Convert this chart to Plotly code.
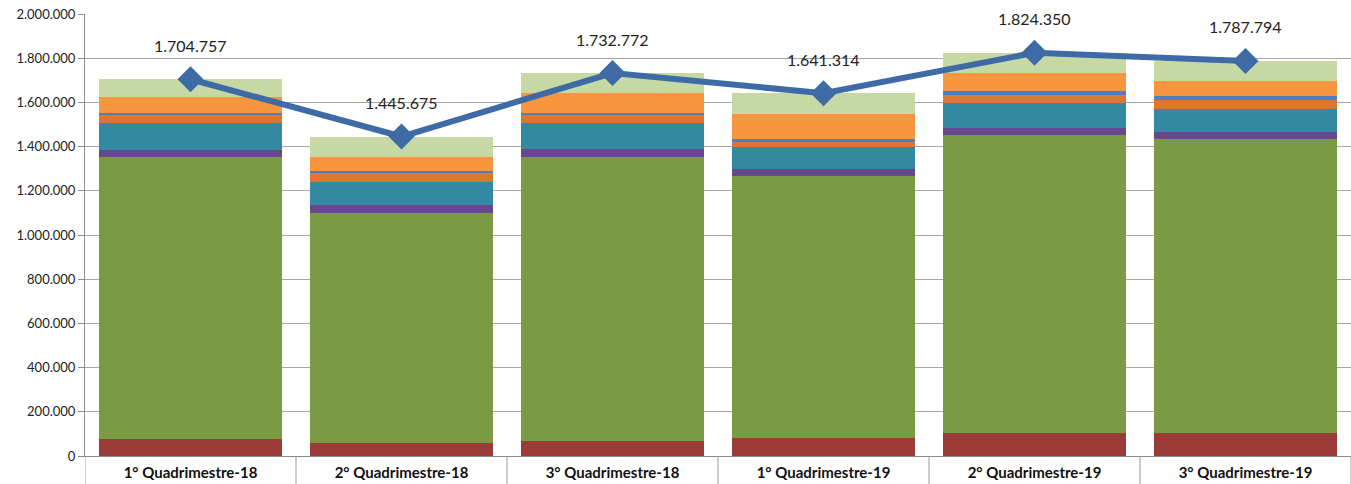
import plotly.graph_objects as go

# ── data ────────────────────────────────────────────────────────────
categories = ["1° Quadrimestre-18", "2° Quadrimestre-18", "3° Quadrimestre-18",
              "1° Quadrimestre-19", "2° Quadrimestre-19", "3° Quadrimestre-19"]

totals = [1704757, 1445675, 1732772, 1641314, 1824350, 1787794]

# stacked components, bottom to top
seg_red       = [77000, 59000, 68000, 81000, 104000, 104000]
seg_green     = [1276000, 1041000, 1285000, 1186000, 1348000, 1330000]
seg_purple    = [32000, 36000, 36000, 32000, 32000, 32000]
seg_teal      = [122000, 104000, 118000, 99000, 113000, 104000]
seg_darkorng  = [36000, 41000, 36000, 23000, 37000, 41000]
seg_blue      = [9000, 9000, 9000, 14000, 16000, 18000]
seg_orange    = [72000, 63000, 91000, 113000, 81000, 68000]
seg_lightgrn  = [80000, 92000, 90000, 93000, 93000, 91000]

y_ticks = [0, 200000, 400000, 600000, 800000, 1000000,
           1200000, 1400000, 1600000, 1800000, 2000000]

STACK = [
    (seg_red,      "#9B3B38"),
    (seg_green,    "#7A9A44"),
    (seg_purple,   "#67488A"),
    (seg_teal,     "#3489A2"),
    (seg_darkorng, "#DC7632"),
    (seg_blue,     "#4F7FC0"),
    (seg_orange,   "#F7963F"),
    (seg_lightgrn, "#C6D9A4"),
]

LINE_COLOR = "#3E6BA6"
FONT = "Lato, Carlito, sans-serif"

fig = go.Figure()

for vals, color in STACK:
    fig.add_trace(go.Bar(
        x=categories, y=vals,
        marker=dict(color=color, line_width=0),
        hoverinfo="skip",
    ))

fig.add_trace(go.Scatter(
    x=categories, y=totals,
    mode="lines+markers",
    line=dict(color=LINE_COLOR, width=6),
    marker=dict(symbol="diamond", size=20, color=LINE_COLOR),
))

# value labels above the diamonds
for c, v in zip(categories, totals):
    fig.add_annotation(
        x=c, y=v, yshift=34, showarrow=False,
        text=f"{v:,}".replace(",", "."),
        font=dict(family=FONT, size=16, color="#222222"),
    )

# category dividers below the axis
for i in range(len(categories) + 1):
    fig.add_shape(
        type="line", xref="x", yref="paper",
        x0=i - 0.5, x1=i - 0.5, y0=0, y1=-0.07,
        line=dict(color="#9A9A9A", width=1),
    )

fig.update_layout(
    barmode="stack",
    bargap=0.135,
    showlegend=False,
    width=1351, height=484,
    margin=dict(l=85, r=0, t=14, b=28),
    paper_bgcolor="white",
    plot_bgcolor="white",
    separators=",.",
    font=dict(family=FONT, color="#222222"),
    xaxis=dict(
        range=[-0.5, 5.5],
        showline=True, linecolor="#8C8C8C", linewidth=1,
        ticks="", tickfont=dict(family=FONT, size=15, color="#111111", weight="bold"),
        ticklabelstandoff=3,
    ),
    yaxis=dict(
        range=[0, 2000000],
        tickvals=y_ticks, tickformat=",d",
        showgrid=True, gridcolor="#A6A6A6", gridwidth=1,
        showline=True, linecolor="#8C8C8C", linewidth=1,
        ticks="outside", ticklen=6, tickcolor="#8C8C8C",
        tickfont=dict(family=FONT, size=13, color="#222222"),
        zeroline=False,
    ),
)

fig.write_html("out.html", config={"displayModeBar": False},
               post_script="document.body.style.margin='0px';")
